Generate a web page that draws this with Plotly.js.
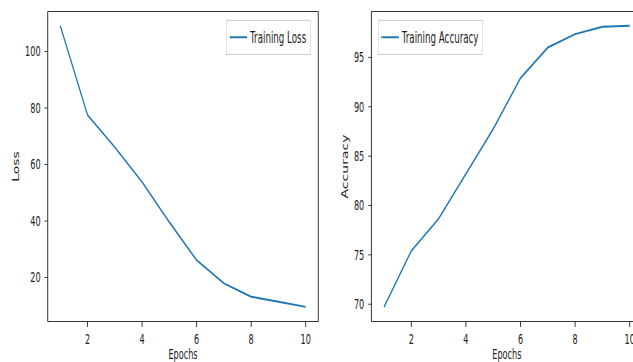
<!DOCTYPE html>
<html>
<head>
<meta charset="utf-8">
<script src="https://cdn.plot.ly/plotly-3.0.1.min.js"></script>
<style>
  html, body { margin: 0; padding: 0; background: #fff; overflow: hidden; width: 633px; height: 362px; }
  #chart { width: 1110px; height: 362px; transform: scaleX(0.58); transform-origin: 0 0; }
</style>
</head>
<body>
<div id="chart"></div>
<script>
const epochs = [1, 2, 3, 4, 5, 6, 7, 8, 9, 10];
const trainingLoss = [109.1, 77.5, 66.1, 53.8, 39.6, 26.1, 17.9, 13.2, 11.4, 9.6];
const trainingAccuracy = [69.7, 75.4, 78.65, 83.2, 87.75, 92.9, 96.0, 97.36, 98.1, 98.2];
const xTickVals = [2, 4, 6, 8, 10];
const lossTickVals = [20, 40, 60, 80, 100];
const accTickVals = [70, 75, 80, 85, 90, 95];

const FONT = 'DejaVu Sans, sans-serif';
const TXT = '#222';
const lineColor = '#1f77b4';

const traces = [
  { x: epochs, y: trainingLoss, type: 'scatter', mode: 'lines', name: 'Training Loss',
    line: { color: lineColor, width: 2 }, xaxis: 'x', yaxis: 'y', legend: 'legend' },
  { x: epochs, y: trainingAccuracy, type: 'scatter', mode: 'lines', name: 'Training Accuracy',
    line: { color: lineColor, width: 2 }, xaxis: 'x2', yaxis: 'y2', legend: 'legend2' }
];

function axisBase(letter) {
  return {
    showgrid: false, zeroline: false, showline: true, mirror: true,
    linecolor: '#000', linewidth: 1,
    ticks: 'outside', ticklen: 5, tickwidth: 1, tickcolor: '#000',
    tickfont: { family: FONT, size: 14, color: TXT },
    ticklabelstandoff: letter === 'x' ? 0 : 4,
    automargin: false
  };
}
function axTitle(text, standoff) {
  return { text: text, standoff: standoff, font: { family: FONT, size: 14, color: TXT } };
}

const layout = {
  width: 1110, height: 362,
  margin: { l: 0, r: 0, t: 0, b: 0 },
  paper_bgcolor: '#fff', plot_bgcolor: '#fff',
  font: { family: FONT, size: 14, color: TXT },
  xaxis: Object.assign(axisBase('x'), {
    domain: [0.07456, 0.49394], range: [0.55, 10.45], tickvals: xTickVals, anchor: 'y',
    title: axTitle('Epochs', 4)
  }),
  yaxis: Object.assign(axisBase('y'), {
    domain: [0.11326, 0.96685], range: [4.6, 114], tickvals: lossTickVals, anchor: 'x',
    title: axTitle('Loss', 6)
  }),
  xaxis2: Object.assign(axisBase('x'), {
    domain: [0.57735, 0.99720], range: [0.55, 10.45], tickvals: xTickVals, anchor: 'y2',
    title: axTitle('Epochs', 4)
  }),
  yaxis2: Object.assign(axisBase('y'), {
    domain: [0.11326, 0.96685], range: [68.3, 99.6], tickvals: accTickVals, anchor: 'x2',
    title: axTitle('Accuracy', 6)
  }),
  legend: {
    x: 0.483, xanchor: 'right', y: 0.945, yanchor: 'top',
    bgcolor: 'rgba(255,255,255,0.8)', bordercolor: '#cccccc', borderwidth: 1,
    font: { family: FONT, size: 15, color: TXT }, itemwidth: 30
  },
  legend2: {
    x: 0.5871, xanchor: 'left', y: 0.945, yanchor: 'top',
    bgcolor: 'rgba(255,255,255,0.8)', bordercolor: '#cccccc', borderwidth: 1,
    font: { family: FONT, size: 15, color: TXT }, itemwidth: 30
  },
  showlegend: true
};

Plotly.newPlot('chart', traces, layout, { staticPlot: true, displayModeBar: false });
</script>
</body>
</html>
